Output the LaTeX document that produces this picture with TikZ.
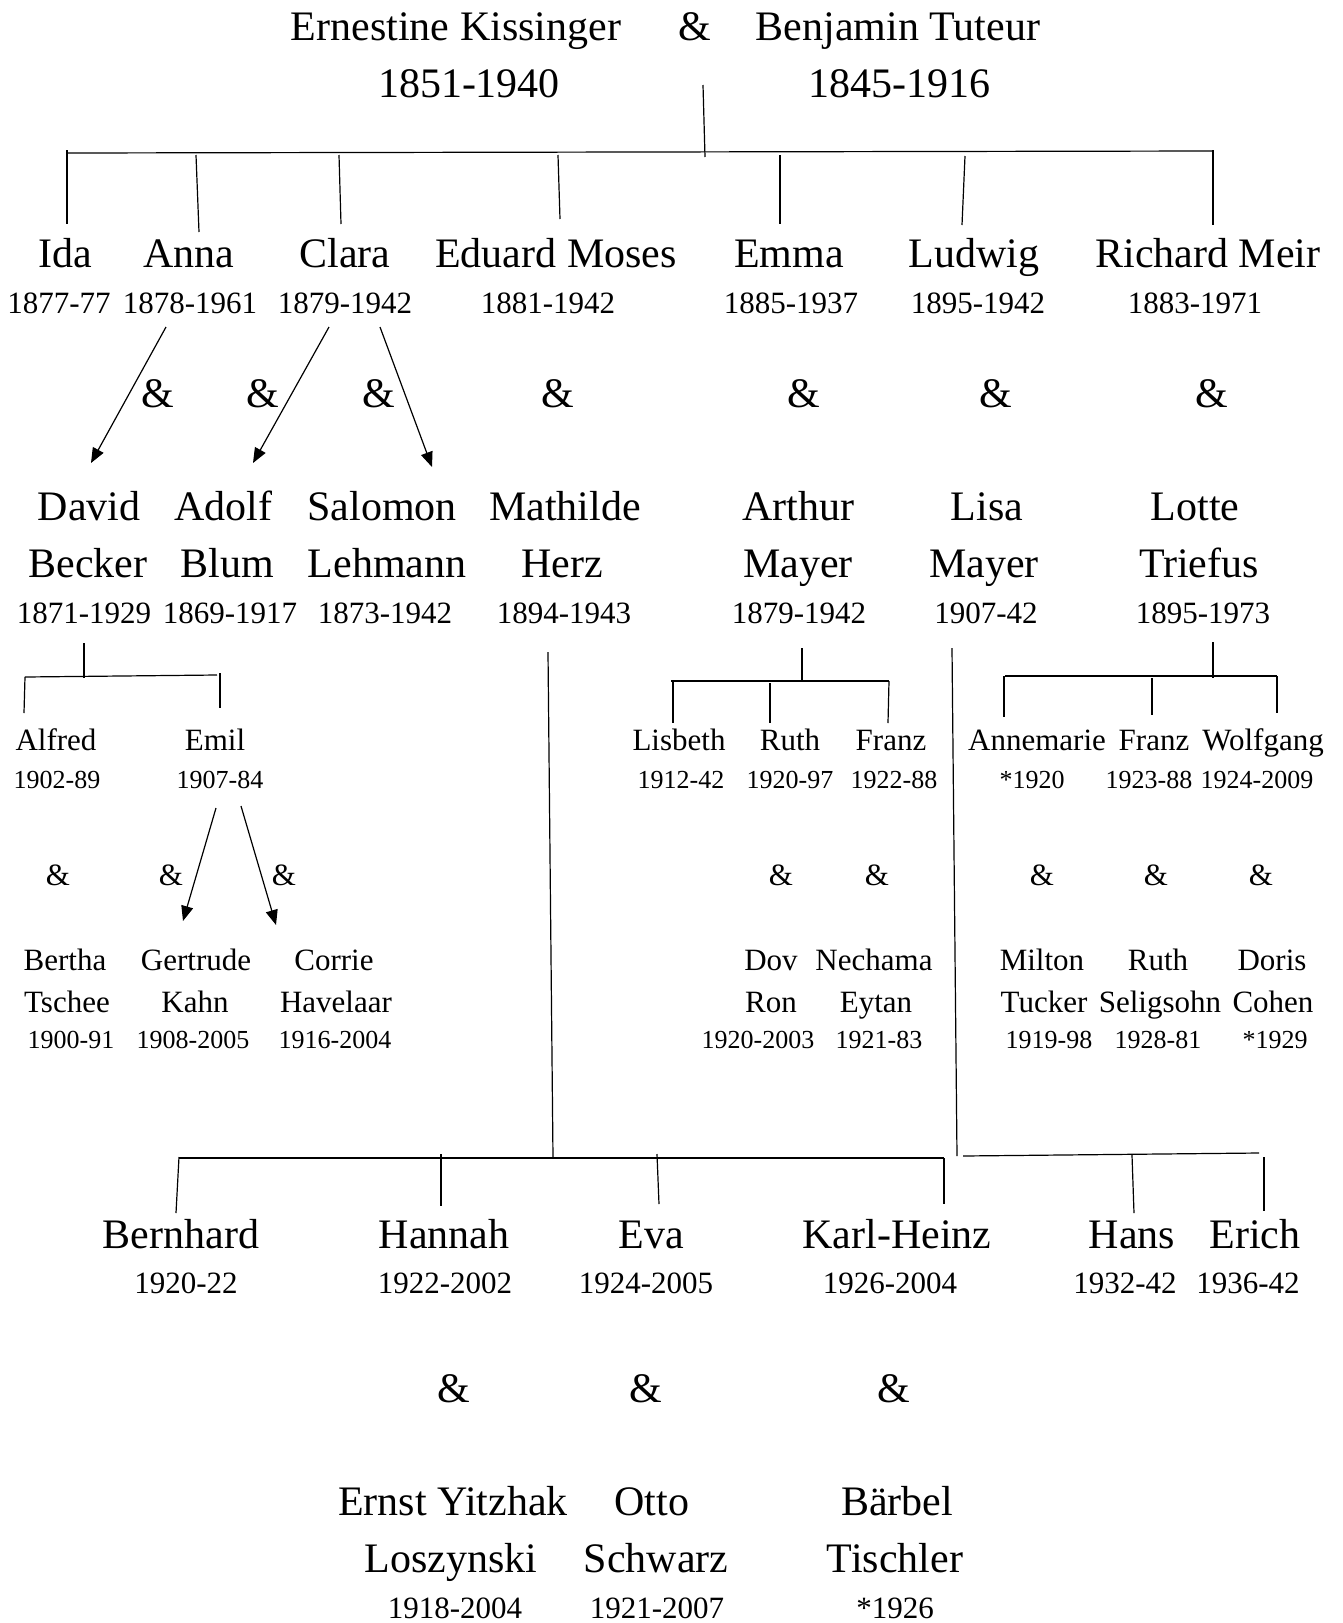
\documentclass[tikz,border=0pt]{standalone}
\usepackage{fontspec}
\setmainfont{Liberation Serif}
\usetikzlibrary{arrows.meta}
\begin{document}
\begin{tikzpicture}[x=1pt,y=-1pt,line width=1.2pt,
  big/.style={anchor=base,inner sep=0pt,font=\fontsize{42}{50}\selectfont},
  mid/.style={anchor=base,inner sep=0pt,font=\fontsize{31}{37}\selectfont},
  sml/.style={anchor=base,inner sep=0pt,font=\fontsize{26}{31}\selectfont},
  arr/.style={-{Triangle[length=15pt,width=12pt]}}]
\useasboundingbox[fill=white] (0,0) rectangle (1343,1623);

% ---------- generation 1
\node[big] (ernestine) at (456,40) {Ernestine Kissinger};
\node[big] (amp0) at (695,40) {\&};
\node[big] (benjamin) at (898,40) {Benjamin Tuteur};
\node[big] (ernestineD) at (469,97) {1851-1940};
\node[big] (benjaminD) at (899,97) {1845-1916};

% ---------- generation 2
\node[big] (ida) at (65,267) {Ida};
\node[big] (anna) at (189,267) {Anna};
\node[big] (clara) at (345,267) {Clara};
\node[big] (eduard) at (556,267) {Eduard Moses};
\node[big] (emma) at (789,267) {Emma};
\node[big] (ludwig) at (974,267) {Ludwig};
\node[big] (richard) at (1208,267) {Richard Meir};
\node[mid] (idaD) at (59,313) {1877-77};
\node[mid] (annaD) at (190,313) {1878-1961};
\node[mid] (claraD) at (345,313) {1879-1942};
\node[mid] (eduardD) at (548,313) {1881-1942};
\node[mid] (emmaD) at (791,313) {1885-1937};
\node[mid] (ludwigD) at (978,313) {1895-1942};
\node[mid] (richardD) at (1195,313) {1883-1971};

\node[big] (a1) at (158,407) {\&};
\node[big] (a2) at (263,407) {\&};
\node[big] (a3) at (379,407) {\&};
\node[big] (a4) at (558,407) {\&};
\node[big] (a5) at (804,407) {\&};
\node[big] (a6) at (996,407) {\&};
\node[big] (a7) at (1212,407) {\&};

% ---------- spouses gen 2
\node[big] (david) at (89,520) {David};
\node[big] (davidB) at (88,577) {Becker};
\node[mid] (davidD) at (84,623) {1871-1929};
\node[big] (adolf) at (223,520) {Adolf};
\node[big] (adolfB) at (227,577) {Blum};
\node[mid] (adolfD) at (230,623) {1869-1917};
\node[big] (salomon) at (382,520) {Salomon};
\node[big] (salomonB) at (387,577) {Lehmann};
\node[mid] (salomonD) at (385,623) {1873-1942};
\node[big] (mathilde) at (565,520) {Mathilde};
\node[big] (mathildeB) at (562,577) {Herz};
\node[mid] (mathildeD) at (564,623) {1894-1943};
\node[big] (arthur) at (798,520) {Arthur};
\node[big] (arthurB) at (798,577) {Mayer};
\node[mid] (arthurD) at (799,623) {1879-1942};
\node[big] (lisa) at (987,520) {Lisa};
\node[big] (lisaB) at (984,577) {Mayer};
\node[mid] (lisaD) at (986,623) {1907-42};
\node[big] (lotte) at (1195,520) {Lotte};
\node[big] (lotteB) at (1199,577) {Triefus};
\node[mid] (lotteD) at (1203,623) {1895-1973};

% ---------- generation 3 (small)
\node[mid] (alfred) at (56,750) {Alfred};
\node[sml] (alfredD) at (57,788) {1902-89};
\node[mid] (emil) at (215,750) {Emil};
\node[sml] (emilD) at (220,788) {1907-84};
\node[mid] (lisbeth) at (679,750) {Lisbeth};
\node[sml] (lisbethD) at (681,788) {1912-42};
\node[mid] (ruth) at (790,750) {Ruth};
\node[sml] (ruthD) at (790,788) {1920-97};
\node[mid] (franz) at (891,750) {Franz};
\node[sml] (franzD) at (894,788) {1922-88};
\node[mid] (annemarie) at (1037,750) {Annemarie};
\node[sml] (annemarieD) at (1032,788) {*1920};
\node[mid] (franzT) at (1154,750) {Franz};
\node[sml] (franzTD) at (1149,788) {1923-88};
\node[mid] (wolfgang) at (1263,750) {Wolfgang};
\node[sml] (wolfgangD) at (1257,788) {1924-2009};

\node[mid] (b1) at (58,885) {\&};
\node[mid] (b2) at (171,885) {\&};
\node[mid] (b3) at (284,885) {\&};
\node[mid] (b4) at (781,885) {\&};
\node[mid] (b5) at (877,885) {\&};
\node[mid] (b6) at (1042,885) {\&};
\node[mid] (b7) at (1156,885) {\&};
\node[mid] (b8) at (1261,885) {\&};

\node[mid] (bertha) at (65,970) {Bertha};
\node[mid] (berthaB) at (67,1012) {Tschee};
\node[sml] (berthaD) at (71,1048) {1900-91};
\node[mid] (gertrude) at (196,970) {Gertrude};
\node[mid] (gertrudeB) at (195,1012) {Kahn};
\node[sml] (gertrudeD) at (193,1048) {1908-2005};
\node[mid] (corrie) at (334,970) {Corrie};
\node[mid] (corrieB) at (336,1012) {Havelaar};
\node[sml] (corrieD) at (335,1048) {1916-2004};
\node[mid] (dov) at (771,970) {Dov};
\node[mid] (dovB) at (771,1012) {Ron};
\node[sml] (dovD) at (758,1048) {1920-2003};
\node[mid] (nechama) at (874,970) {Nechama};
\node[mid] (nechamaB) at (876,1012) {Eytan};
\node[sml] (nechamaD) at (879,1048) {1921-83};
\node[mid] (milton) at (1042,970) {Milton};
\node[mid] (miltonB) at (1044,1012) {Tucker};
\node[sml] (miltonD) at (1049,1048) {1919-98};
\node[mid] (ruthS) at (1158,970) {Ruth};
\node[mid] (ruthSB) at (1160,1012) {Seligsohn};
\node[sml] (ruthSD) at (1158,1048) {1928-81};
\node[mid] (doris) at (1272,970) {Doris};
\node[mid] (dorisB) at (1273,1012) {Cohen};
\node[sml] (dorisD) at (1275,1048) {*1929};

% ---------- generation 3 (large, bottom)
\node[big] (bernhard) at (181,1248) {Bernhard};
\node[mid] (bernhardD) at (186,1293) {1920-22};
\node[big] (hannah) at (444,1248) {Hannah};
\node[mid] (hannahD) at (445,1293) {1922-2002};
\node[big] (eva) at (651,1248) {Eva};
\node[mid] (evaD) at (646,1293) {1924-2005};
\node[big] (karl) at (897,1248) {Karl-Heinz};
\node[mid] (karlD) at (890,1293) {1926-2004};
\node[big] (hans) at (1132,1248) {Hans};
\node[mid] (hansD) at (1125,1293) {1932-42};
\node[big] (erich) at (1255,1248) {Erich};
\node[mid] (erichD) at (1248,1293) {1936-42};

\node[big] (c1) at (454,1402) {\&};
\node[big] (c2) at (646,1402) {\&};
\node[big] (c3) at (894,1402) {\&};

\node[big] (ernst) at (453,1515) {Ernst Yitzhak};
\node[big] (ernstB) at (451,1572) {Loszynski};
\node[mid] (ernstD) at (455,1618) {1918-2004};
\node[big] (otto) at (652,1515) {Otto};
\node[big] (ottoB) at (656,1572) {Schwarz};
\node[mid] (ottoD) at (657,1618) {1921-2007};
\node[big] (baerbel) at (897,1515) {Bärbel};
\node[big] (baerbelB) at (895,1572) {Tischler};
\node[mid] (baerbelD) at (895,1618) {*1926};

% ---------- connector points
\coordinate (topA) at (703,85);   \coordinate (topB) at (705,157);
\coordinate (barL) at (67,153);   \coordinate (barR) at (1213,151);
\coordinate (idaT) at (67,150);   \coordinate (idaE) at (67,224);
\coordinate (annaT) at (196,155); \coordinate (annaE) at (199,232);
\coordinate (claraT) at (339,155);\coordinate (claraE) at (341,224);
\coordinate (eduT) at (558,155);  \coordinate (eduE) at (560,219);
\coordinate (emmaT) at (780,155); \coordinate (emmaE) at (780,224);
\coordinate (ludT) at (965,156);  \coordinate (ludE) at (962,225);
\coordinate (ricT) at (1213,150); \coordinate (ricE) at (1213,225);

\coordinate (annaS) at (166,327);  \coordinate (davidT) at (91,463);
\coordinate (claraS1) at (329,327);\coordinate (adolfT) at (253,463);
\coordinate (claraS2) at (380,327);\coordinate (salomonT) at (432,467);

\coordinate (dvA) at (84,643);   \coordinate (dvB) at (84,678);
\coordinate (dbL) at (25,677);   \coordinate (dbR) at (217,675);
\coordinate (alfE) at (24,713);
\coordinate (emilT) at (220,673);\coordinate (emilE) at (220,708);
\coordinate (emilS1) at (216,808);\coordinate (gertT) at (183,921);
\coordinate (emilS2) at (241,806);\coordinate (corrT) at (276,925);

\coordinate (mvA) at (548,652);  \coordinate (mvB) at (553,1158);
\coordinate (mbL) at (179,1158); \coordinate (mbR) at (944,1158);
\coordinate (berT) at (179,1157);\coordinate (berE) at (176,1213);
\coordinate (hanT) at (441,1154);\coordinate (hanE) at (441,1206);
\coordinate (evaT) at (657,1154);\coordinate (evaE) at (659,1204);
\coordinate (karE) at (944,1204);

\coordinate (avA) at (802,648);  \coordinate (avB) at (802,681);
\coordinate (abL) at (671,681);  \coordinate (abR) at (889,681);
\coordinate (lisT) at (673,681); \coordinate (lisE) at (673,723);
\coordinate (rutT) at (770,683); \coordinate (rutE) at (770,723);
\coordinate (fraE) at (888,723);

\coordinate (lvA) at (952,648);  \coordinate (lvB) at (957,1156);
\coordinate (lbL) at (963,1156); \coordinate (lbR) at (1259,1153);
\coordinate (hanST) at (1132,1155);\coordinate (hanSE) at (1134,1213);
\coordinate (eriT) at (1264,1157);\coordinate (eriE) at (1264,1211);

\coordinate (tvA) at (1213,642); \coordinate (tvB) at (1213,678);
\coordinate (tbL) at (1005,676); \coordinate (tbR) at (1277,676);
\coordinate (annT) at (1004,676);\coordinate (annE) at (1004,717);
\coordinate (fr2T) at (1152,678);\coordinate (fr2E) at (1152,715);
\coordinate (wolE) at (1277,713);

% ---------- connectors
\draw (topA) -- (topB);
\draw (barL) -- (barR);
\draw (idaT) -- (idaE);
\draw (annaT) -- (annaE);
\draw (claraT) -- (claraE);
\draw (eduT) -- (eduE);
\draw (emmaT) -- (emmaE);
\draw (ludT) -- (ludE);
\draw (ricT) -- (ricE);

\draw[arr] (annaS) -- (davidT);
\draw[arr] (claraS1) -- (adolfT);
\draw[arr] (claraS2) -- (salomonT);

\draw (dvA) -- (dvB);
\draw (dbL) -- (dbR);
\draw (dbL) -- (alfE);
\draw (emilT) -- (emilE);
\draw[arr] (emilS1) -- (gertT);
\draw[arr] (emilS2) -- (corrT);

\draw (mvA) -- (mvB);
\draw (mbL) -- (mbR);
\draw (berT) -- (berE);
\draw (hanT) -- (hanE);
\draw (evaT) -- (evaE);
\draw (mbR) -- (karE);

\draw (avA) -- (avB);
\draw (abL) -- (abR);
\draw (lisT) -- (lisE);
\draw (rutT) -- (rutE);
\draw (abR) -- (fraE);

\draw (lvA) -- (lvB);
\draw (lbL) -- (lbR);
\draw (hanST) -- (hanSE);
\draw (eriT) -- (eriE);

\draw (tvA) -- (tvB);
\draw (tbL) -- (tbR);
\draw (annT) -- (annE);
\draw (fr2T) -- (fr2E);
\draw (tbR) -- (wolE);
\end{tikzpicture}
\end{document}
